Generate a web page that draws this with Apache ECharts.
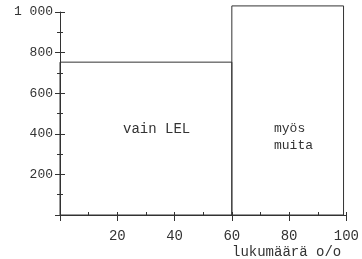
<!DOCTYPE html>
<html><head><meta charset="utf-8">
<script src="https://cdn.jsdelivr.net/npm/echarts@6/dist/echarts.min.js"></script>
<style>html,body{margin:0;padding:0;background:#fff}#c{width:362px;height:259px}</style>
</head><body><div id="c"></div>
<script>
const groups = ['vain LEL', 'myös\nmuita'];
const shareStart = [0, 60];
const shareEnd = [60, 99];
const values = [753, 1030];
const xTicks = [20, 40, 60, 80, 100];
const yTickLabels = {200: '200', 400: '400', 600: '600', 800: '800', 1000: '1 000'};
const xName = 'lukumäärä o/o';

const data = groups.map((g, i) => [shareStart[i], shareEnd[i], values[i]]);
const font = 'Liberation Mono';
const col = '#333';

const chart = echarts.init(document.getElementById('c'), null, {renderer: 'canvas'});
chart.setOption({
  animation: false,
  backgroundColor: '#fff',
  grid: {left: 60, right: 14, top: 12, bottom: 44},
  xAxis: [
    {type: 'value', min: 0, max: 100, interval: 20, position: 'bottom',
     axisLine: {onZero: false, lineStyle: {color: col, width: 1}},
     axisTick: {length: 6, lineStyle: {color: col}},
     axisLabel: {color: col, fontFamily: font, fontSize: 14, margin: 14,
       formatter: v => (xTicks.indexOf(v) >= 0 ? String(v) : '')},
     splitLine: {show: false}},
    {type: 'value', min: 0, max: 100, interval: 10, position: 'bottom',
     axisLine: {show: false, onZero: false},
     axisTick: {inside: true, length: 3, lineStyle: {color: col}},
     axisLabel: {show: false}, splitLine: {show: false}}
  ],
  yAxis: [
    {type: 'value', min: 0, max: 1000, interval: 200, position: 'left',
     axisLine: {show: true, onZero: false, lineStyle: {color: col, width: 1}},
     axisTick: {show: true, length: 5, lineStyle: {color: col}},
     minorTick: {show: true, splitNumber: 2, length: 3, lineStyle: {color: col}},
     axisLabel: {color: col, fontFamily: font, fontSize: 13, margin: 7,
       formatter: v => yTickLabels[v] || ''},
     splitLine: {show: false}},
    {type: 'value', min: 0, max: 1000, interval: 200, position: 'left',
     axisLine: {show: false, onZero: false},
     axisTick: {show: true, inside: true, length: 5, lineStyle: {color: col}},
     minorTick: {show: true, splitNumber: 2, length: 3, lineStyle: {color: col}},
     axisLabel: {show: false}, splitLine: {show: false}}
  ],
  series: [{
    type: 'custom',
    clip: false,
    data: data,
    renderItem: function (params, api) {
      const p0 = api.coord([api.value(0), 0]);
      const p1 = api.coord([api.value(1), api.value(2)]);
      return {
        type: 'rect',
        shape: {x: p0[0], y: p1[1], width: p1[0] - p0[0], height: p0[1] - p1[1]},
        style: {fill: 'none', stroke: col, lineWidth: 1}
      };
    }
  }],
  graphic: [
    {type: 'text', left: 123, top: 122, style: {text: groups[0], font: '14px ' + font, fill: col}},
    {type: 'text', left: 274, top: 120, style: {text: groups[1], font: '13px ' + font, fill: col, lineHeight: 17}},
    {type: 'text', left: 232, top: 245, style: {text: xName, font: '14px ' + font, fill: col}}
  ]
});
</script></body></html>
